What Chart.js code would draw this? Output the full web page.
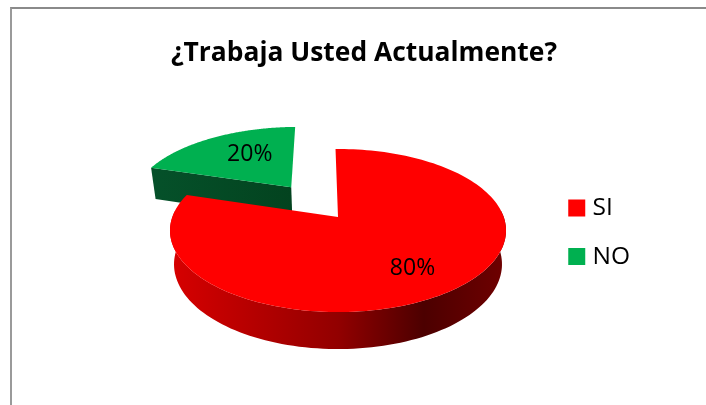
<!DOCTYPE html>
<html>
<head>
<meta charset="utf-8">
<style>
html,body{margin:0;padding:0;background:#fff;overflow:hidden}
#wrap{position:relative;width:706px;height:405px}
#frame{position:absolute;left:10px;top:7px;width:696px;height:398px;border-top:2px solid #8a8a8a;border-left:2px solid #9a9a9a;box-sizing:border-box}
canvas{position:absolute;left:0;top:0}
</style>
<script src="https://cdn.jsdelivr.net/npm/chart.js@4/dist/chart.umd.min.js"></script>
</head>
<body>
<div id="wrap"><div id="frame"></div><canvas id="c" width="706" height="405"></canvas></div>
<script>
const titleText = '¿Trabaja Usted Actualmente?';
const categories = ['SI', 'NO'];
const values = [80, 20];
const valueLabels = ['80%', '20%'];
const sliceColors = ['#FF0000', '#00B050'];
const explode = [0, 0.5];
const labelRadii = [0.68, 0.58];
const labelShift = [[0, 4], [6, -3]];

const view = {x: 338, y: 217, a: 165.7, b: 79.3, k: 0.1656, depth: 33.2, shrink: 0.976};

// perspective map of the unit disc plane onto the page
function project(u, v) {
  const w = 1 - view.k * v;
  return {x: view.x + view.a * u / w, y: view.y + view.b * v / w};
}
function projectLow(u, v) {
  const w = 1 - view.k * v;
  const d = view.depth / Math.pow(w, 0.6);
  return {x: view.x + view.shrink * view.a * u / w, y: view.y + view.b * v / w + d};
}
function uv(ang, r, ox, oy) { return [ox + r * Math.cos(ang), oy + r * Math.sin(ang)]; }

const pie3d = {
  id: 'pie3d',
  beforeDatasetDraw(chart) {
    const ctx = chart.ctx;
    const arcs = chart.getDatasetMeta(0).data;
    const order = arcs.map((_, i) => i).reverse();
    order.forEach(i => {
      const el = arcs[i];
      const s = el.startAngle, e = el.endAngle, mid = (s + e) / 2;
      const ox = explode[i] * Math.cos(mid), oy = explode[i] * Math.sin(mid);
      const n = 160;
      const ring = [];
      for (let j = 0; j <= n; j++) ring.push(s + (e - s) * j / n);

      // outer wall, only the part turned towards the viewer
      const front = ring.filter(t => Math.sin(t) > -0.1);
      if (front.length) {
        const grad = ctx.createLinearGradient(view.x - 165, 0, view.x + 165, 0);
        grad.addColorStop(0, '#d60000'); grad.addColorStop(0.5, '#920000');
        grad.addColorStop(0.76, '#4c0000'); grad.addColorStop(1, '#6e0000');
        ctx.fillStyle = grad;
        ctx.beginPath();
        front.forEach((t, j) => {
          const [u, v] = uv(t, 1, ox, oy);
          const p = project(u, v);
          j ? ctx.lineTo(p.x, p.y) : ctx.moveTo(p.x, p.y);
        });
        front.slice().reverse().forEach(t => {
          const [u, v] = uv(t, 1, ox, oy);
          const p = projectLow(u, v);
          ctx.lineTo(p.x, p.y);
        });
        ctx.closePath();
        ctx.fill();
      }

      // radial cut face that looks at the viewer (the exploded slice's left edge)
      if (explode[i] > 0) {
        const [u, v] = uv(s, 1, ox, oy);
        const a = project(ox, oy), b = project(u, v), c = projectLow(u, v), d = projectLow(ox, oy);
        const g2 = ctx.createLinearGradient(b.x, 0, a.x, 0);
        g2.addColorStop(0, '#05512a'); g2.addColorStop(1, '#03431f');
        ctx.fillStyle = g2;
        ctx.beginPath();
        ctx.moveTo(a.x, a.y); ctx.lineTo(b.x, b.y); ctx.lineTo(c.x, c.y); ctx.lineTo(d.x, d.y);
        ctx.closePath();
        ctx.fill();
      }

      // top face
      ctx.fillStyle = el.options.backgroundColor;
      ctx.beginPath();
      const apex = project(ox, oy);
      ctx.moveTo(apex.x, apex.y);
      ring.forEach(t => {
        const [u, v] = uv(t, 1, ox, oy);
        const p = project(u, v);
        ctx.lineTo(p.x, p.y);
      });
      ctx.closePath();
      ctx.fill();
    });
    // slice percentages
    ctx.save();
    ctx.fillStyle = '#000';
    ctx.font = '23px "Open Sans"';
    ctx.textAlign = 'center';
    ctx.textBaseline = 'middle';
    arcs.forEach((el, i) => {
      const mid = (el.startAngle + el.endAngle) / 2;
      const ox = explode[i] * Math.cos(mid), oy = explode[i] * Math.sin(mid);
      const [u, v] = uv(mid, labelRadii[i], ox, oy);
      const p = project(u, v);
      ctx.fillText(valueLabels[i], p.x + labelShift[i][0], p.y + labelShift[i][1]);
    });
    ctx.restore();
    return false;
  }
};

new Chart(document.getElementById('c'), {
  type: 'pie',
  data: {
    labels: categories,
    datasets: [{data: values, backgroundColor: sliceColors, borderWidth: 0}]
  },
  plugins: [pie3d],
  options: {
    responsive: false,
    animation: false,
    rotation: -1,
    layout: {padding: {left: 88, right: 66, top: 0, bottom: 80}},
    plugins: {
      tooltip: {enabled: false},
      title: {
        display: true,
        text: titleText,
        color: '#000',
        font: {family: '"Open Sans"', size: 26.4, weight: '700'},
        padding: {top: 38, bottom: 70}
      },
      legend: {
        position: 'right',
        fullSize: false,
        labels: {
          color: '#000',
          font: {family: '"Open Sans"', size: 24.5},
          boxWidth: 7,
          boxHeight: 7,
          padding: 24,
          generateLabels(chart) {
            return categories.map((name, i) => ({
              text: name,
              fillStyle: sliceColors[i],
              strokeStyle: sliceColors[i],
              lineWidth: 10,
              index: i
            }));
          }
        }
      }
    }
  }
});
</script>
</body>
</html>
